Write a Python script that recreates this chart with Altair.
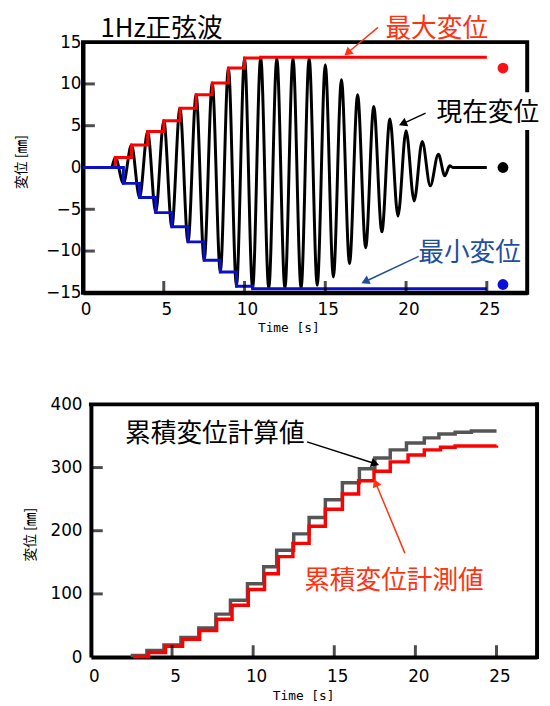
import altair as alt
import pandas as pd

# ---------------- top panel data (1 Hz sine, extrema) ----------------
wave_t = [0, 1.75, 2.0, 2.5, 3.0, 3.5, 4.0, 4.5, 5.0, 5.5, 6.0, 6.5, 7.0, 7.5, 8.0, 8.5,
          9.0, 9.5, 10.0, 10.5, 11.0, 11.5, 12.0, 12.5, 13.0, 13.5, 14.0, 14.5, 15.0, 15.5,
          16.0, 16.5, 17.0, 17.5, 18.0, 18.5, 19.0, 19.5, 20.0, 20.5, 21.0, 21.5, 22.0,
          22.4, 22.7, 22.9, 25.0]
wave_v = [0, 0, 1.2, -1.9, 2.7, -3.6, 4.3, -5.4, 5.6, -7.1, 7.1, -8.9, 8.7, -11.1, 10.1, -12.5,
          11.9, -14.2, 13.1, -14.5, 13.2, -14.5, 13.1, -14.5, 13.1, -14.5, 13.1, -14.1, 12.3, -13.1,
          10.5, -11.5, 8.7, -9.6, 7.3, -7.7, 5.8, -5.8, 4.4, -4.0, 3.1, -2.2, 1.6,
          -1.0, 0.2, 0, 0]

dot_t = [26, 26, 26]
dot_v = [11.9, 0.0, -14.0]
dot_color = ["#ff1010", "#000000", "#0a10d8"]

top_text = ["1Hz正弦波", "最大変位", "現在変位", "最小変位"]
top_text_t = [4.86, 21.9, 25.06, 23.93]
top_text_v = [16.5, 16.54, 6.55, -10.28]
top_text_color = ["#000000", "#ff3311", "#000000", "#1f4e9e"]

top_arrow_t = [18.26, 21.21, 20.78]
top_arrow_v = [16.77, 6.50, -10.63]
top_arrow_t2 = [16.44, 19.87, 17.54]
top_arrow_v2 = [13.82, 5.31, -13.58]
top_arrow_angle = [230, 246, 245]
top_arrow_color = ["#ff3311", "#000000", "#1f4e9e"]

top_xticks = [5, 10, 15, 20, 25]
top_yticks = [-10, -5, 5, 10]

# ---------------- bottom panel data (cumulative displacement) ----------------
calc_t = [2.45, 3.45, 4.5, 5.55, 6.65, 7.7, 8.6, 9.65, 10.65, 11.45, 12.5, 13.45, 14.45,
          15.5, 16.55, 17.5, 18.45, 19.45, 20.55, 21.45, 22.45, 23.45, 25.0]
calc_v = [2.5, 10.5, 19, 31, 46, 68, 90, 116, 143, 169, 195, 221, 249,
          276, 298, 315, 328, 339, 347, 353, 356, 358, 358]
meas_t = [2.6, 3.55, 4.6, 5.65, 6.7, 7.75, 8.7, 9.7, 10.7, 11.55, 12.45, 13.45, 14.45,
          15.5, 16.5, 17.45, 18.45, 19.55, 20.55, 21.55, 22.45, 25.0]
meas_v = [1, 7.3, 17, 28, 42, 60, 82, 107, 132, 159, 180, 207, 234,
          258, 279, 294, 309, 320, 328, 332, 334, 335]

bot_text = ["累積変位計算値", "累積変位計測値"]
bot_text_t = [7.64, 18.68]
bot_text_v = [353, 121]
bot_text_color = ["#000000", "#ff3311"]

bot_arrow_t = [13.32, 19.35]
bot_arrow_v = [340.6, 164.5]
bot_arrow_t2 = [17.44, 17.58]
bot_arrow_v2 = [306.7, 273.9]
bot_arrow_angle = [108, 337]
bot_arrow_color = ["#000000", "#ff3311"]

bot_xticks = [5, 10, 15, 20, 25]
bot_yticks = [100, 200, 300]

CJK = "Noto Sans CJK JP"
X_DOMAIN = [0, 27.5]
Y_BOT = [0, 400]
NOTE_SIZE = 26


def X(field, scale, axis):
    return alt.X(field, type="quantitative", scale=scale, axis=axis)


def Y(field, scale, axis):
    return alt.Y(field, type="quantitative", scale=scale, axis=axis)


# ---------------- top panel ----------------
wave = pd.DataFrame({"t": wave_t, "v": wave_v})
wave["vmax"] = wave["v"].cummax()
wave["vmin"] = wave["v"].cummin()

xs_top = alt.Scale(domain=X_DOMAIN, nice=False, zero=False)
ys_top = alt.Scale(domain=[-15, 15], nice=False)

x_top_axis = alt.Axis(values=[0, 5, 10, 15, 20, 25], title="Time [s]", labelPadding=9,
                      labelOffset=2.5, titleX=208, titleY=29, titleBaseline="top",
                      titleFont="DejaVu Sans Mono", titleFontSize=13)
y_top_axis = alt.Axis(values=[-15, -10, -5, 0, 5, 10, 15], title="変位 [㎜]", labelPadding=2,
                      titleX=-62, titleY=121, titleBaseline="middle", titleAlign="center",
                      titleFont=CJK, titleFontSize=14)

base_top = alt.Chart(wave)
black_line = base_top.mark_line(color="black", strokeWidth=3, interpolate="monotone").encode(
    x=X("t", xs_top, x_top_axis), y=Y("v", ys_top, y_top_axis))
red_line = base_top.mark_line(color="#ff0000", strokeWidth=3, interpolate="step-after").encode(
    x=X("t", xs_top, x_top_axis), y=Y("vmax", ys_top, y_top_axis))
blue_line = base_top.mark_line(color="#0a10c8", strokeWidth=3, interpolate="step-after").encode(
    x=X("t", xs_top, x_top_axis), y=Y("vmin", ys_top, y_top_axis))

dots = alt.Chart(pd.DataFrame({"t": dot_t, "v": dot_v, "c": dot_color})).mark_circle(
    size=120, opacity=1).encode(
    x=X("t", xs_top, x_top_axis), y=Y("v", ys_top, y_top_axis),
    color=alt.Color("c:N", scale=None))

tt = pd.DataFrame({"label": top_text, "t": top_text_t, "v": top_text_v, "c": top_text_color})
label_bg = alt.Chart(pd.DataFrame({"t": [21.8], "t2": [28.2], "v": [4.5], "v2": [9.0]})).mark_rect(
    color="white").encode(
    x=X("t", xs_top, x_top_axis), x2="t2", y=Y("v", ys_top, y_top_axis), y2="v2")
top_texts = alt.Chart(tt).mark_text(font=CJK, fontSize=NOTE_SIZE, align="center",
                                    baseline="middle").encode(
    x=X("t", xs_top, x_top_axis), y=Y("v", ys_top, y_top_axis),
    text="label:N", color=alt.Color("c:N", scale=None))

ta = pd.DataFrame({"t": top_arrow_t, "v": top_arrow_v, "t2": top_arrow_t2, "v2": top_arrow_v2,
                   "a": top_arrow_angle, "c": top_arrow_color})
top_shafts = alt.Chart(ta).mark_rule(strokeWidth=1.5).encode(
    x=X("t", xs_top, x_top_axis), y=Y("v", ys_top, y_top_axis), x2="t2", y2="v2",
    color=alt.Color("c:N", scale=None))
top_heads = alt.Chart(ta).mark_point(shape="triangle", filled=True, size=90, opacity=1).encode(
    x=X("t2", xs_top, x_top_axis), y=Y("v2", ys_top, y_top_axis),
    angle=alt.Angle("a:Q", scale=None), color=alt.Color("c:N", scale=None))

tx = alt.Chart(pd.DataFrame({"t": top_xticks, "v": [-15] * len(top_xticks)})).mark_tick(
    orient="vertical", size=12, thickness=3, color="black", yOffset=-6).encode(
    x=X("t", xs_top, x_top_axis), y=Y("v", ys_top, y_top_axis))
ty = alt.Chart(pd.DataFrame({"t": [0] * len(top_yticks), "v": top_yticks})).mark_tick(
    orient="horizontal", size=12, thickness=3, color="black", xOffset=6).encode(
    x=X("t", xs_top, x_top_axis), y=Y("v", ys_top, y_top_axis))

top = alt.layer(black_line, red_line, blue_line, dots, label_bg, top_texts,
                top_shafts, top_heads, tx, ty).properties(width=450, height=254)

# ---------------- bottom panel (plot box starts 8 px further right) ----------------
BW = 460
xs_bot = alt.Scale(domain=X_DOMAIN, nice=False, zero=False, range=[8, BW])
ys_bot = alt.Scale(domain=Y_BOT, nice=False)
x_bot_axis = alt.Axis(values=[0, 5, 10, 15, 20, 25], title="Time [s]", labelPadding=12,
                      labelOffset=3, titleX=223, titleY=33, titleBaseline="top",
                      titleFont="DejaVu Sans Mono", titleFontSize=13)
y_bot_axis = alt.Axis(values=[0, 100, 200, 300, 400], title="変位 [㎜]", labelPadding=9,
                      offset=-8, titleX=-61.5, titleY=131.5, titleBaseline="middle",
                      titleAlign="center", titleFont=CJK, titleFontSize=14)

calc = alt.Chart(pd.DataFrame({"t": calc_t, "v": calc_v})).mark_line(
    color="#555555", strokeWidth=3.5, interpolate="step-after").encode(
    x=X("t", xs_bot, x_bot_axis), y=Y("v", ys_bot, y_bot_axis))
meas = alt.Chart(pd.DataFrame({"t": meas_t, "v": meas_v})).mark_line(
    color="#ff0000", strokeWidth=3.5, interpolate="step-after").encode(
    x=X("t", xs_bot, x_bot_axis), y=Y("v", ys_bot, y_bot_axis))

# frame: top and right borders of the plot box
frame = alt.Chart(pd.DataFrame({"t": [X_DOMAIN[0], X_DOMAIN[1]], "v": [Y_BOT[1], Y_BOT[1]],
                                "t2": [X_DOMAIN[1], X_DOMAIN[1]], "v2": [Y_BOT[1], Y_BOT[0]]})
                  ).mark_rule(color="black", strokeWidth=4, strokeCap="square").encode(
    x=X("t", xs_bot, x_bot_axis), y=Y("v", ys_bot, y_bot_axis), x2="t2", y2="v2")

bt = pd.DataFrame({"label": bot_text, "t": bot_text_t, "v": bot_text_v, "c": bot_text_color})
bot_texts = alt.Chart(bt).mark_text(font=CJK, fontSize=NOTE_SIZE, align="center",
                                    baseline="middle").encode(
    x=X("t", xs_bot, x_bot_axis), y=Y("v", ys_bot, y_bot_axis),
    text="label:N", color=alt.Color("c:N", scale=None))
ba = pd.DataFrame({"t": bot_arrow_t, "v": bot_arrow_v, "t2": bot_arrow_t2, "v2": bot_arrow_v2,
                   "a": bot_arrow_angle, "c": bot_arrow_color})
bot_shafts = alt.Chart(ba).mark_rule(strokeWidth=1.5).encode(
    x=X("t", xs_bot, x_bot_axis), y=Y("v", ys_bot, y_bot_axis), x2="t2", y2="v2",
    color=alt.Color("c:N", scale=None))
bot_heads = alt.Chart(ba).mark_point(shape="triangle", filled=True, size=90, opacity=1).encode(
    x=X("t2", xs_bot, x_bot_axis), y=Y("v2", ys_bot, y_bot_axis),
    angle=alt.Angle("a:Q", scale=None), color=alt.Color("c:N", scale=None))

bx = alt.Chart(pd.DataFrame({"t": bot_xticks, "v": [0] * len(bot_xticks)})).mark_tick(
    orient="vertical", size=12, thickness=3, color="black", yOffset=-6).encode(
    x=X("t", xs_bot, x_bot_axis), y=Y("v", ys_bot, y_bot_axis))
by = alt.Chart(pd.DataFrame({"t": [0] * len(bot_yticks), "v": bot_yticks})).mark_tick(
    orient="horizontal", size=12, thickness=3, color="black", xOffset=6).encode(
    x=X("t", xs_bot, x_bot_axis), y=Y("v", ys_bot, y_bot_axis))

bottom = alt.layer(calc, meas, frame, bot_texts, bot_shafts, bot_heads, bx, by).properties(
    width=BW, height=256, view=alt.ViewBackground(strokeOpacity=0))

chart = alt.vconcat(top, bottom, spacing=60).properties(
    padding={"left": 5, "top": 1, "right": 0, "bottom": 0}, background="white"
).configure_view(stroke="black", strokeWidth=4).configure_axis(
    labelFont="DejaVu Sans", labelFontSize=17, labelColor="black", labelFlush=False,
    domainColor="black", domainWidth=4, ticks=False, grid=False,
    titleColor="black", titleFontWeight="normal"
)

chart.save("out.html", embed_options={"renderer": "svg", "actions": False})
